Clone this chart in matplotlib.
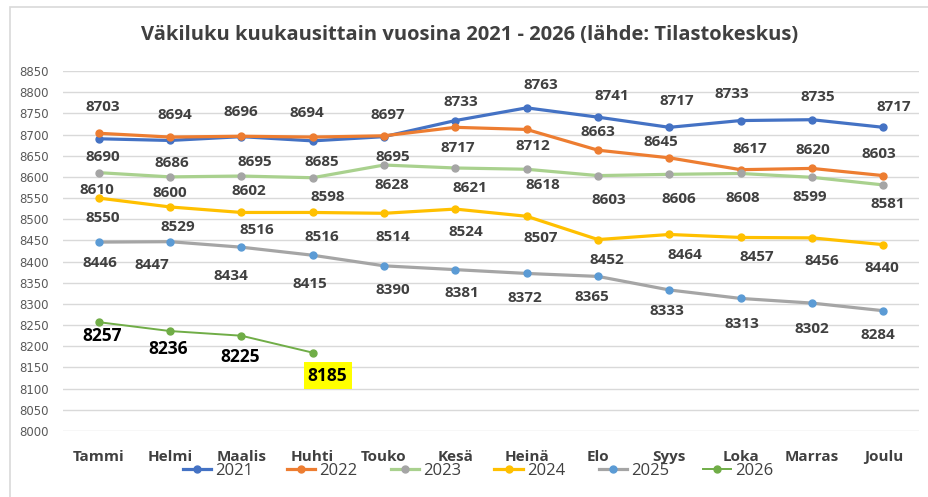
import matplotlib
matplotlib.use("Agg")
import matplotlib.pyplot as plt
from matplotlib.patches import Rectangle

# Data
months = ["Tammi", "Helmi", "Maalis", "Huhti", "Touko", "Kesä",
          "Heinä", "Elo", "Syys", "Loka", "Marras", "Joulu"]
years = ["2021", "2022", "2023", "2024", "2025", "2026"]

v2021 = [8690, 8686, 8695, 8685, 8695, 8733, 8763, 8741, 8717, 8733, 8735, 8717]
v2022 = [8703, 8694, 8696, 8694, 8697, 8717, 8712, 8663, 8645, 8617, 8620, 8603]
v2023 = [8610, 8600, 8602, 8598, 8628, 8621, 8618, 8603, 8606, 8608, 8599, 8581]
v2024 = [8550, 8529, 8516, 8516, 8514, 8524, 8507, 8452, 8464, 8457, 8456, 8440]
v2025 = [8446, 8447, 8434, 8415, 8390, 8381, 8372, 8365, 8333, 8313, 8302, 8284]
v2026 = [8257, 8236, 8225, 8185]

series = [v2021, v2022, v2023, v2024, v2025, v2026]

# styles: line colour, marker colour, line width
line_colors = ["#4472C4", "#ED7D31", "#A9D18E", "#FFC000", "#A5A5A5", "#70AD47"]
marker_colors = ["#4472C4", "#ED7D31", "#A5A5A5", "#FFC000", "#5B9BD5", "#70AD47"]
line_widths = [2.3, 2.3, 2.3, 2.3, 2.3, 1.4]

# label offsets in pixels (dx, dy), positive dy = up
label_dx = [
    [4, 2, 13, 9, 9, 6, 14, 14, 7, -9, 6, 10],
    [4, 5, 0, -6, 4, 2, 6, 0, -8, 9, 1, -4],
    [-2, 0, 8, 15, 8, 15, 16, 11, 10, 2, -2, 4],
    [4, 8, 16, 9, 9, 11, 14, 9, 16, 16, 10, -1],
    [1, -18, -10, -3, 9, 7, -2, -6, -2, 1, 0, -5],
    [3, -2, -1, 15],
]
label_dy = [
    [-18, -23, -25, -21, -20, 19, 23, 21, 26, 27, 23, 20],
    [26, 22, 24, 24, 21, -21, -17, 18, 16, 21, 18, 22],
    [-17, -16, -15, -19, -20, -20, -16, -24, -25, -25, -20, -19],
    [-20, -20, -18, -25, -24, -23, -22, -20, -21, -20, -23, -23],
    [-21, -23, -29, -29, -24, -23, -25, -21, -21, -26, -26, -24],
    [-14, -18, -21, -23],
]

W, H = 929, 497
fig = plt.figure(figsize=(W / 100, H / 100), dpi=100)
fig.patch.set_facecolor("white")

# light border around the chart area
fig.patches.append(Rectangle((10 / W, -0.05), 1.05, 1 - 7 / H + 0.05,
                             transform=fig.transFigure, fill=False,
                             edgecolor="#D9D9D9", linewidth=1.2))

ax = fig.add_axes([63 / W, (H - 431) / H, (919 - 63) / W, (431 - 71) / H])
ax.set_xlim(-0.5, 11.5)
ax.set_ylim(8000, 8850)
ax.set_yticks(range(8000, 8851, 50))
ax.yaxis.grid(True, color="#D9D9D9", linewidth=1.0)
ax.set_axisbelow(True)
for s in ax.spines.values():
    s.set_visible(False)
ax.tick_params(axis="both", length=0)
ax.tick_params(axis="y", labelsize=8.5, labelcolor="#595959", pad=10)
ax.set_xticks(range(len(months)))
ax.set_xticklabels(months, fontsize=11, fontweight="bold", color="#404040",
                   family="Open Sans")
ax.tick_params(axis="x", pad=14)

for i, vals in enumerate(series):
    xs = list(range(len(vals)))
    ax.plot(xs, vals, color=line_colors[i], linewidth=line_widths[i],
            marker="o", markersize=5, markerfacecolor=marker_colors[i],
            markeredgecolor=marker_colors[i], label=years[i], zorder=3 + i)
    for j, v in enumerate(vals):
        last = (i == 5 and j == len(vals) - 1)
        ax.annotate(str(v), (j, v),
                    xytext=(label_dx[i][j], label_dy[i][j]),
                    textcoords="offset pixels", ha="center", va="center",
                    fontsize=12.5 if i == 5 else 11, fontweight="bold",
                    family="Open Sans",
                    color="black" if i == 5 else "#404040",
                    bbox=dict(boxstyle="square,pad=0.25", fc="#FFFF00",
                              ec="none") if last else None,
                    zorder=20)

fig.text(470 / W, (H - 35) / H,
         "Väkiluku kuukausittain vuosina 2021 - 2026 (lähde: Tilastokeskus)",
         ha="center", va="center", fontsize=14.5, fontweight="bold",
         color="#404040", family="Open Sans")

fig.legend(loc="center", bbox_to_anchor=(478 / W, (H - 471) / H), ncol=6,
           frameon=False, prop={"family": "Open Sans", "size": 12},
           labelcolor="#404040", handlelength=1.7, handletextpad=0.25,
           columnspacing=2.0)

fig.savefig("out.png", dpi=100)
